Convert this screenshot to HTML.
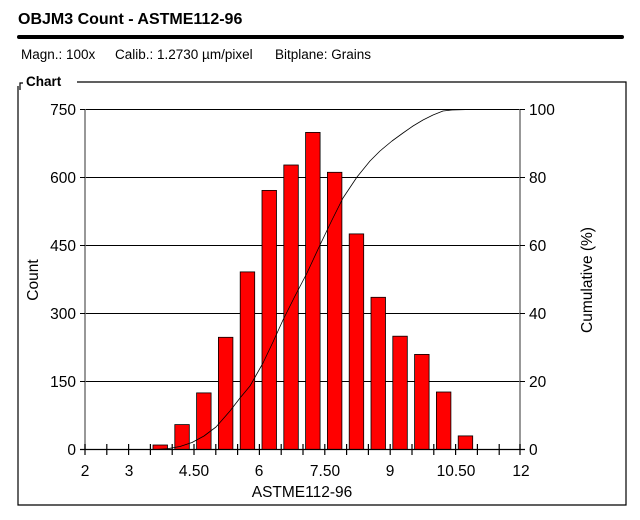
<!DOCTYPE html>
<html><head><meta charset="utf-8"><style>
body{margin:0;background:#fff;width:640px;height:515px;overflow:hidden;font-family:"Liberation Sans",Arial,sans-serif}
</style></head><body>
<svg width="640" height="515" xmlns="http://www.w3.org/2000/svg" font-family="Liberation Sans, Arial, sans-serif">
<text x="18" y="24" font-size="16" font-weight="bold">OBJM3 Count - ASTME112-96</text>
<line x1="19" y1="37" x2="622" y2="37" stroke="#000" stroke-width="4" stroke-linecap="round"/>
<text x="21" y="59" font-size="13.5">Magn.:  100x</text>
<text x="115" y="59" font-size="13.5">Calib.:  1.2730 µm/pixel</text>
<text x="275" y="59" font-size="13.5">Bitplane: Grains</text>
<path d="M20,90 V83 H23 M77,82 H626 V505 H18 V86" fill="none" stroke="#000" stroke-width="1.2"/>
<text x="26" y="86" font-size="13.5" font-weight="bold">Chart</text>
<g stroke="#000" stroke-width="1">
<line x1="85" y1="109.5" x2="520" y2="109.5"/>
<line x1="85" y1="177.5" x2="520" y2="177.5"/>
<line x1="85" y1="245.5" x2="520" y2="245.5"/>
<line x1="85" y1="313.5" x2="520" y2="313.5"/>
<line x1="85" y1="381.5" x2="520" y2="381.5"/>
</g>
<g fill="#ff0000" stroke="#000" stroke-width="0.8">
<rect x="153" y="445" width="14.5" height="4.5"/>
<rect x="174.8" y="424.6" width="14.5" height="24.9"/>
<rect x="196.6" y="392.9" width="14.5" height="56.6"/>
<rect x="218.4" y="337.3" width="14.5" height="112.2"/>
<rect x="240.2" y="271.9" width="14.5" height="177.6"/>
<rect x="262" y="190.4" width="14.5" height="259.1"/>
<rect x="283.8" y="165" width="14.5" height="284.5"/>
<rect x="305.6" y="132.4" width="14.5" height="317.1"/>
<rect x="327.4" y="172.3" width="14.5" height="277.2"/>
<rect x="349.2" y="233.9" width="14.5" height="215.6"/>
<rect x="371" y="297.3" width="14.5" height="152.2"/>
<rect x="392.8" y="336.2" width="14.5" height="113.3"/>
<rect x="414.6" y="354.4" width="14.5" height="95.1"/>
<rect x="436.4" y="392" width="14.5" height="57.5"/>
<rect x="458.2" y="435.9" width="14.5" height="13.6"/>
</g>
<polyline points="155,449.5 168,448.6 180,446.5 192,442.5 204,436 216,427 230,411 240,398 250,386 263,363 273,342 283,320 295,296 307,273 320,245 332,220 343,198 357,177 370,161 380,151 392,141 403,133 413,126 423,120 433,115 443,111 452,110 470,109.5" fill="none" stroke="#000" stroke-width="0.8" stroke-linejoin="round"/>
<g stroke="#777" stroke-width="1.5">
<line x1="85" y1="109" x2="85" y2="450"/>
<line x1="520" y1="109" x2="520" y2="450"/>
</g>
<line x1="80" y1="449.5" x2="525" y2="449.5" stroke="#000" stroke-width="1.2"/>
<g stroke="#000" stroke-width="1">
<line x1="80" y1="109.5" x2="85" y2="109.5"/><line x1="80" y1="177.5" x2="85" y2="177.5"/><line x1="80" y1="245.5" x2="85" y2="245.5"/><line x1="80" y1="313.5" x2="85" y2="313.5"/><line x1="80" y1="381.5" x2="85" y2="381.5"/>
<line x1="520" y1="109.5" x2="525" y2="109.5"/><line x1="520" y1="177.5" x2="525" y2="177.5"/><line x1="520" y1="245.5" x2="525" y2="245.5"/><line x1="520" y1="313.5" x2="525" y2="313.5"/><line x1="520" y1="381.5" x2="525" y2="381.5"/>
</g>
<g stroke="#000" stroke-width="1.2">
<line x1="85" y1="444" x2="85" y2="455"/><line x1="106.8" y1="444" x2="106.8" y2="455"/><line x1="128.6" y1="444" x2="128.6" y2="455"/><line x1="150.4" y1="444" x2="150.4" y2="455"/><line x1="172.2" y1="444" x2="172.2" y2="455"/><line x1="194" y1="444" x2="194" y2="455"/><line x1="215.8" y1="444" x2="215.8" y2="455"/><line x1="237.6" y1="444" x2="237.6" y2="455"/><line x1="259.4" y1="444" x2="259.4" y2="455"/><line x1="281.2" y1="444" x2="281.2" y2="455"/><line x1="303" y1="444" x2="303" y2="455"/><line x1="324.8" y1="444" x2="324.8" y2="455"/><line x1="346.6" y1="444" x2="346.6" y2="455"/><line x1="368.4" y1="444" x2="368.4" y2="455"/><line x1="390.2" y1="444" x2="390.2" y2="455"/><line x1="412" y1="444" x2="412" y2="455"/><line x1="433.8" y1="444" x2="433.8" y2="455"/><line x1="455.6" y1="444" x2="455.6" y2="455"/><line x1="477.4" y1="444" x2="477.4" y2="455"/><line x1="499.2" y1="444" x2="499.2" y2="455"/><line x1="520" y1="444" x2="520" y2="455"/>
</g>
<g font-size="15.5" text-anchor="end">
<text x="76" y="115">750</text><text x="76" y="183">600</text><text x="76" y="251">450</text><text x="76" y="319">300</text><text x="76" y="387">150</text><text x="76" y="455">0</text>
</g>
<g font-size="15.5">
<text x="529" y="115">100</text><text x="529" y="183">80</text><text x="529" y="251">60</text><text x="529" y="319">40</text><text x="529" y="387">20</text><text x="529" y="455">0</text>
</g>
<g font-size="15.5" text-anchor="middle">
<text x="85" y="476">2</text><text x="129" y="476">3</text><text x="194" y="476">4.50</text><text x="259" y="476">6</text><text x="325" y="476">7.50</text><text x="390" y="476">9</text><text x="456" y="476">10.50</text><text x="521" y="476">12</text>
<text x="302" y="497">ASTME112-96</text>
</g>
<text font-size="15.5" text-anchor="middle" transform="translate(38,280) rotate(-90)">Count</text>
<text font-size="15.5" text-anchor="middle" transform="translate(592,280) rotate(-90)">Cumulative (%)</text>
</svg>
</body></html>
